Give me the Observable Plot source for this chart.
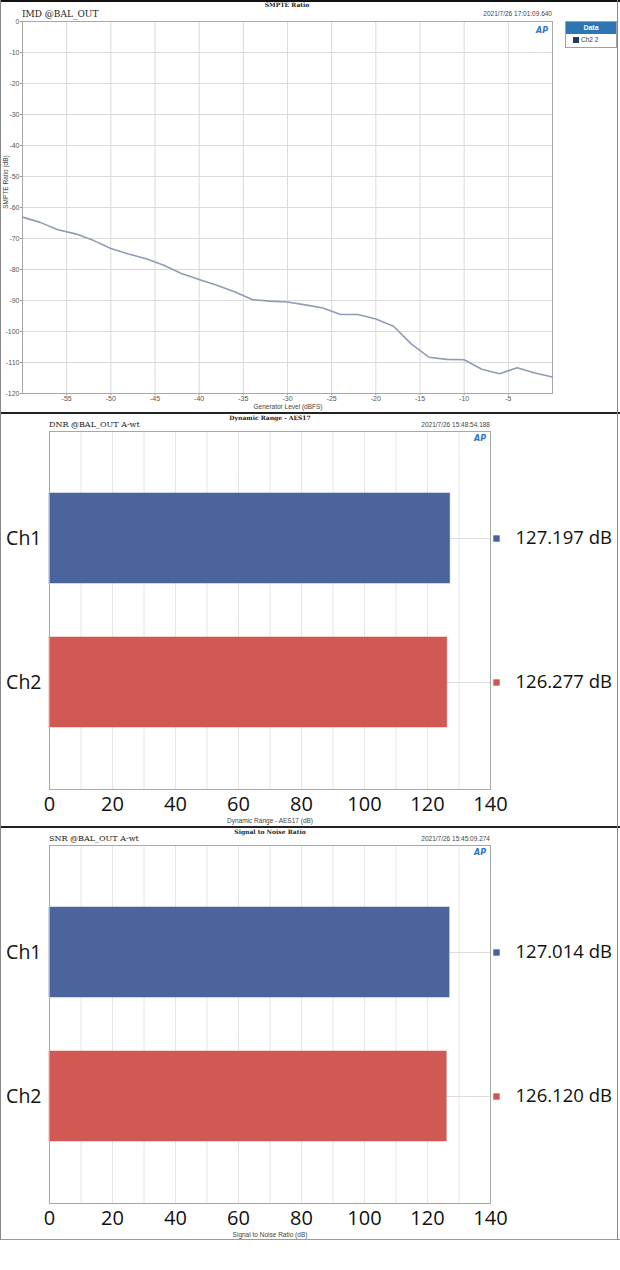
<!DOCTYPE html>
<html><head><meta charset="utf-8">
<script src="https://cdn.jsdelivr.net/npm/d3@7"></script>
<script src="https://cdn.jsdelivr.net/npm/@observablehq/plot@0.6"></script>
<style>
body{margin:0;background:#fff;}
#root{position:relative;width:620px;height:1270px;overflow:hidden;background:#fff;}
.abs{position:absolute;white-space:nowrap;line-height:1;}
.serif{font-family:"DejaVu Serif","Liberation Serif",serif;color:#222;}
.sm{font-family:"Liberation Sans",Arial,sans-serif;color:#444;}
.ap{font-family:"DejaVu Sans",sans-serif;font-style:italic;font-weight:bold;color:#2f78c0;font-size:8px;}
svg{position:absolute;left:0;}
</style></head><body><div id="root"></div>
<script>
// ---- data ----
const genLevel = [-60,-58,-56,-54,-52,-50,-48,-46,-44,-42,-40,-38,-36,-34,-32,-30,-28,-26,-24,-22,-20,-18,-16,-14,-12,-10,-8,-6,-4,-2,0];
const smpteRatio = [-63.1,-64.8,-67.2,-68.5,-70.6,-73.2,-75.0,-76.5,-78.6,-81.3,-83.2,-85.1,-87.2,-89.7,-90.2,-90.5,-91.4,-92.4,-94.5,-94.5,-96.0,-98.3,-104.0,-108.3,-109.0,-109.1,-112.2,-113.6,-111.7,-113.4,-114.7];
const imdXTicks = [-55,-50,-45,-40,-35,-30,-25,-20,-15,-10,-5];
const imdYTicks = [0,-10,-20,-30,-40,-50,-60,-70,-80,-90,-100,-110,-120];
const channels = ["Ch1","Ch2"];
const dnrValues = [127.197, 126.277];
const snrValues = [127.014, 126.120];
const channelColors = ["#47629a","#d05651"];
const barTicks = [0,20,40,60,80,100,120,140];
const barGrid = [10,20,30,40,50,60,70,80,90,100,110,120,130];

const root = document.getElementById("root");
function addDiv(cls, text, css){
  const d = document.createElement("div");
  d.className = "abs " + cls;
  d.textContent = text;
  Object.assign(d.style, css);
  root.appendChild(d);
  return d;
}

// ---- top chart: SMPTE IMD ----
const imdData = genLevel.map((g,i)=>({g, v: smpteRatio[i]}));
const imd = Plot.plot({
  width:620, height:413, marginLeft:22, marginRight:68, marginTop:21, marginBottom:20,
  style:{fontFamily:"Liberation Sans, Arial, sans-serif", fontSize:"7px", color:"#555", background:"transparent", overflow:"visible"},
  x:{domain:[-60,0], label:null},
  y:{domain:[-120,0], label:null},
  marks:[
    Plot.gridX(imdXTicks,{stroke:"#dadada", strokeOpacity:1}),
    Plot.gridY(imdYTicks,{stroke:"#dadada", strokeOpacity:1}),
    Plot.axisX(imdXTicks,{tickSize:2, tickPadding:1, stroke:"#999", tickFormat:d=>String(d)}),
    Plot.axisY(imdYTicks,{tickSize:2, tickPadding:1, stroke:"#999", tickFormat:d=>String(d)}),
    Plot.frame({stroke:"#a8a8a8"}),
    Plot.line(imdData,{x:"g", y:"v", stroke:"#8e9db4", strokeWidth:1.6})
  ]
});
imd.style.top = "0px";
root.appendChild(imd);

addDiv("serif", "SMPTE Ratio", {left:"287px", top:"2px", transform:"translateX(-50%)", fontSize:"6px", fontWeight:"bold"});
addDiv("serif", "IMD @BAL_OUT", {left:"22px", top:"10px", fontSize:"9px"});
addDiv("sm", "2021/7/26 17:01:09.640", {right:"68px", top:"11px", fontSize:"6.5px"});
addDiv("ap", "AP", {left:"536px", top:"27px"});
addDiv("sm", "SMPTE Ratio (dB)", {left:"6px", top:"182px", transform:"translate(-50%,-50%) rotate(-90deg)", fontSize:"6.5px"});
addDiv("sm", "Generator Level (dBFS)", {left:"288px", top:"404px", transform:"translateX(-50%)", fontSize:"6.5px"});
// legend box
const lg = document.createElement("div");
lg.className = "abs";
Object.assign(lg.style, {left:"565px", top:"21px", width:"52px", height:"27px", border:"1px solid #a0a0a0", boxSizing:"border-box", background:"#fff"});
lg.innerHTML = '<div style="background:#2e75b6;color:#fff;font:bold 7px Liberation Sans,Arial,sans-serif;text-align:center;height:12px;line-height:12px;">Data</div>'+
  '<div style="font:6.5px Liberation Sans,Arial,sans-serif;color:#333;padding:2px 0 0 7px;"><span style="display:inline-block;width:6px;height:6px;background:#1f3864;vertical-align:-1px;margin-right:2px;"></span>Ch2 2</div>';
root.appendChild(lg);

// ---- bar charts ----
function barChart(values){
  const data = channels.map((c,i)=>({channel:c, value:values[i]}));
  return Plot.plot({
    width:620, height:414, marginLeft:49, marginRight:130, marginTop:18, marginBottom:38,
    style:{fontFamily:"Open Sans, Noto Sans, sans-serif", background:"transparent", color:"#111", overflow:"visible"},
    x:{domain:[0,140], label:null},
    y:{domain:channels, paddingInner:0.375, paddingOuter:0.43, label:null},
    color:{domain:channels, range:channelColors},
    marks:[
      Plot.gridX(barGrid,{stroke:"#e6e6e6", strokeOpacity:1}),
      Plot.ruleY(data,{y:"channel", x1:"value", x2:140, stroke:"#dedede"}),
      Plot.barX(data,{x:"value", y:"channel", fill:"channel", stroke:"channel", strokeOpacity:0.5, fillOpacity:0.98}),
      Plot.frame({stroke:"#a8a8a8"}),
      Plot.axisX(barTicks,{tickSize:0, tickPadding:7, fontSize:20}),
      Plot.axisY({tickSize:0, tickPadding:8, fontSize:19.5}),
      Plot.dot(data,{x:140, y:"channel", symbol:"square", fill:"channel", r:3.6, dx:6}),
      Plot.text(data,{x:140, y:"channel", text:d=>d.value.toFixed(3)+" dB", dx:25, textAnchor:"start", fontSize:18.5, fill:"#111"})
    ]
  });
}

const dnr = barChart(dnrValues);
dnr.style.top = "413px";
root.appendChild(dnr);
addDiv("serif", "Dynamic Range - AES17", {left:"270px", top:"415px", transform:"translateX(-50%)", fontSize:"6px", fontWeight:"bold"});
addDiv("serif", "DNR @BAL_OUT A-wt", {left:"49px", top:"421px", fontSize:"8px"});
addDiv("sm", "2021/7/26 15:48:54.188", {right:"130px", top:"422px", fontSize:"6.5px"});
addDiv("ap", "AP", {left:"474px", top:"435px"});
addDiv("sm", "Dynamic Range - AES17 (dB)", {left:"270px", top:"818px", transform:"translateX(-50%)", fontSize:"6.5px"});

const snr = barChart(snrValues);
snr.style.top = "827px";
root.appendChild(snr);
addDiv("serif", "Signal to Noise Ratio", {left:"270px", top:"829px", transform:"translateX(-50%)", fontSize:"6px", fontWeight:"bold"});
addDiv("serif", "SNR @BAL_OUT A-wt", {left:"49px", top:"835px", fontSize:"8px"});
addDiv("sm", "2021/7/26 15:45:09.274", {right:"130px", top:"836px", fontSize:"6.5px"});
addDiv("ap", "AP", {left:"474px", top:"849px"});
addDiv("sm", "Signal to Noise Ratio (dB)", {left:"270px", top:"1232px", transform:"translateX(-50%)", fontSize:"6.5px"});

// panel borders
function line(css){ const d=document.createElement("div"); d.className="abs"; Object.assign(d.style, css); root.appendChild(d); }
line({left:"0px", top:"0px", width:"620px", height:"2px", background:"#111"});
line({left:"0px", top:"412px", width:"620px", height:"2px", background:"#222"});
line({left:"0px", top:"826px", width:"620px", height:"2px", background:"#222"});
line({left:"0px", top:"1239px", width:"620px", height:"1px", background:"#999"});
line({left:"0px", top:"0px", width:"1px", height:"1240px", background:"#888"});
line({left:"617px", top:"0px", width:"1px", height:"1240px", background:"#888"});
</script></body></html>
